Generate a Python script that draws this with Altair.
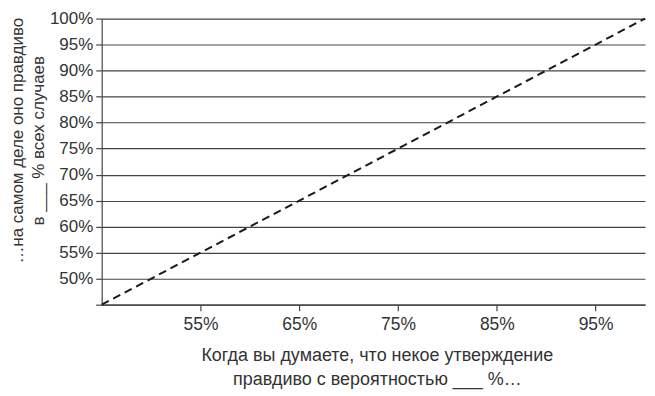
import altair as alt
import pandas as pd

# diagonal of perfect calibration
x_vals = [45, 100]
y_vals = [45, 100]
x_ticks = [55, 65, 75, 85, 95]
y_ticks = [45, 50, 55, 60, 65, 70, 75, 80, 85, 90, 95, 100]

x_title = ["Когда вы думаете, что некое утверждение", "правдиво с вероятностью ___ %…"]
y_title = ["…на самом деле оно правдиво", "в ___ % всех случаев"]

df = pd.DataFrame({"x": x_vals, "y": y_vals})

FONT = "Liberation Sans"

chart = alt.Chart(df).mark_line(
    color="#1a1a1a", strokeWidth=2, strokeDash=[8, 5]
).encode(
    x=alt.X("x:Q", scale=alt.Scale(domain=[45, 100], nice=False, zero=False),
            axis=alt.Axis(values=x_ticks, labelExpr="datum.value + '%'",
                          grid=False, title=x_title, tickSize=6,
                          labelPadding=5, labelFontSize=17.5,
                          titleFontSize=18, titleLineHeight=24,
                          titlePadding=14, titleX=276, titleAlign="center")),
    y=alt.Y("y:Q", scale=alt.Scale(domain=[45, 100], nice=False, zero=False),
            axis=alt.Axis(values=y_ticks,
                          labelExpr="datum.value == 45 ? '' : datum.value + '%'",
                          grid=True, title=y_title, tickSize=6,
                          labelPadding=3, labelFontSize=17,
                          titleFontSize=17, titleLineHeight=21,
                          titleX=-92, titleY=122,
                          titleBaseline="top", titleAlign="center")),
).properties(
    width=545, height=287,
    padding={"left": 94, "top": 10, "right": 2, "bottom": 90},
    autosize=alt.AutoSizeParams(type="none"),
).configure_view(stroke=None).configure_axis(
    labelFont=FONT, titleFont=FONT,
    titleFontWeight="normal", labelColor="#333", titleColor="#333",
    domainColor="#444", tickColor="#444", gridColor="#444",
    gridOpacity=1, domainWidth=1.2, gridWidth=1.2, tickWidth=1.2,
).configure_axisY(titleAngle=-90)

chart.save("out.html", embed_options={"renderer": "svg", "actions": False})
